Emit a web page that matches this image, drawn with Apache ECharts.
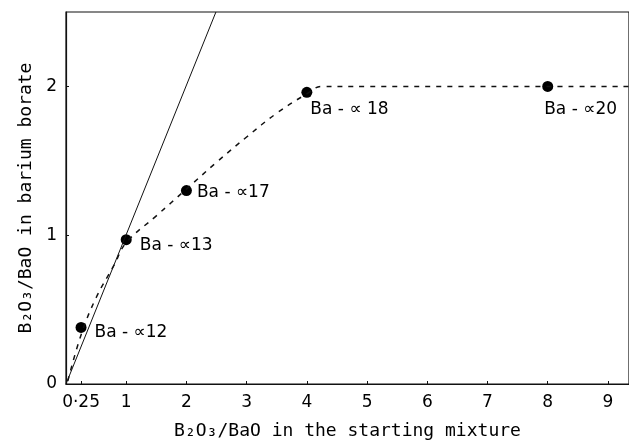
<!DOCTYPE html>
<html><head><meta charset="utf-8">
<script src="https://cdn.jsdelivr.net/npm/echarts@6/dist/echarts.min.js"></script>
<style>html,body{margin:0;padding:0;background:#fff}#c{width:629px;height:445px}</style>
</head><body><div id="c"></div>
<script>
// Measured points (starting-mixture ratio, ratio in barium borate)
const pointsX = [0.25, 1, 2, 4, 8];
const pointsY = [0.38, 0.97, 1.30, 1.96, 2.00];
const pointLabels = ['Ba - ∝12', 'Ba - ∝13', 'Ba - ∝17', 'Ba - ∝ 18', 'Ba - ∝20'];
// Solid reference line
const solidX = [0, 2.49];
const solidY = [0, 2.5];
// Dashed curve
const dashX = [0.03, 0.25, 0.5, 0.8, 1, 1.5, 2, 2.5, 3, 3.5, 4, 4.25, 5, 9.35];
const dashY = [0.02, 0.33, 0.58, 0.80, 0.95, 1.13, 1.31, 1.49, 1.66, 1.82, 1.95, 2.0, 2.0, 2.0];
const xTickValues = [0.25, 1, 2, 3, 4, 5, 6, 7, 8, 9];
const yTickValues = [0, 1, 2];

const font = 'DejaVu Sans';
const nameFont = 'DejaVu Sans Mono';
const zip = (a, b) => a.map((v, i) => [v, b[i]]);
const labelPos = [
  {position: 'right', offset: [4, 5]},
  {position: 'right', offset: [4, 6]},
  {position: 'right', offset: [1, 2]},
  {position: 'right', offset: [-6, 17]},
  {position: 'right', offset: [-13, 23]}
];

const chart = echarts.init(document.getElementById('c'), null, {renderer: 'canvas'});
chart.setOption({
  animation: false,
  backgroundColor: '#fff',
  grid: {left: 66, right: 0, top: 12, bottom: 61, show: true, borderColor: '#111', borderWidth: 1.2},
  xAxis: {
    type: 'value', min: 0, max: 9.35,
    name: 'B₂O₃/BaO in the starting mixture',
    nameLocation: 'middle', nameGap: 38,
    nameTextStyle: {fontFamily: nameFont, fontSize: 18, color: '#000'},
    axisLine: {show: true, onZero: false, lineStyle: {color: '#111', width: 1.2}},
    axisTick: {show: true, inside: true, length: 3, customValues: xTickValues, lineStyle: {color: '#111'}},
    axisLabel: {
      customValues: xTickValues, fontFamily: font, fontSize: 17, color: '#000', margin: 10,
      formatter: v => v === 0.25 ? '0·25' : String(v)
    },
    splitLine: {show: false}
  },
  yAxis: {
    type: 'value', min: 0, max: 2.5,
    name: 'B₂O₃/BaO in barium borate',
    nameLocation: 'middle', nameGap: 30,
    nameTextStyle: {fontFamily: nameFont, fontSize: 18, color: '#000'},
    axisLine: {show: true, onZero: false, lineStyle: {color: '#111', width: 1.2}},
    axisTick: {show: true, inside: true, length: 3, customValues: [1, 2], lineStyle: {color: '#111'}},
    axisLabel: {customValues: yTickValues, fontFamily: font, fontSize: 17, color: '#000', margin: 9},
    splitLine: {show: false}
  },
  series: [
    {
      type: 'line', data: zip(solidX, solidY), symbol: 'none',
      lineStyle: {color: '#111', width: 1}
    },
    {
      type: 'line', data: zip(dashX, dashY), symbol: 'none', smooth: 0.4,
      lineStyle: {color: '#111', width: 1.5, type: [5, 6]}
    },
    {
      type: 'scatter', symbolSize: 11, itemStyle: {color: '#000', opacity: 1},
      data: zip(pointsX, pointsY).map((p, i) => ({
        value: p,
        label: Object.assign({show: true, formatter: pointLabels[i], fontFamily: font, fontSize: 17, color: '#000', distance: 4}, labelPos[i])
      }))
    }
  ]
});
</script></body></html>
